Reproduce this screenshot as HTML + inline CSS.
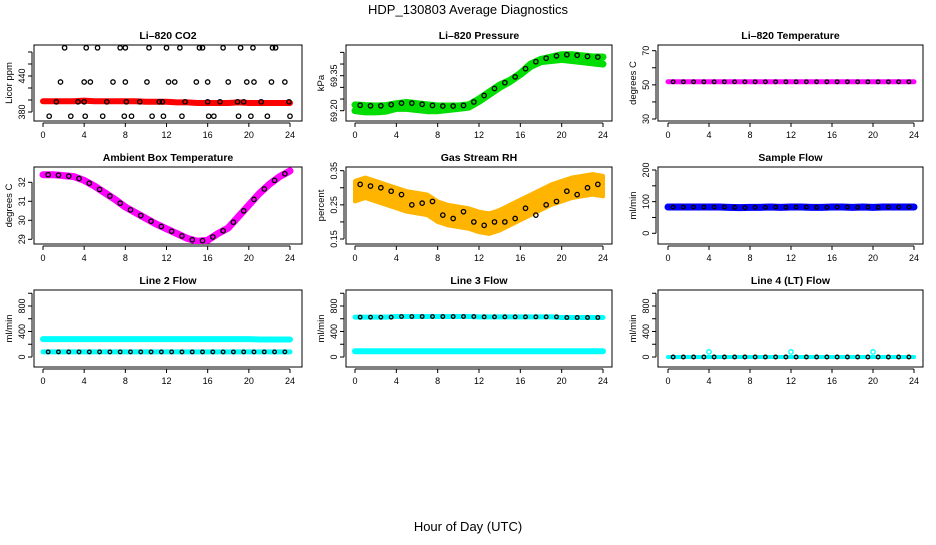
<!DOCTYPE html>
<html><head><meta charset="utf-8"><style>
html,body{margin:0;padding:0;background:#fff}
svg text{font-family:"Liberation Sans",sans-serif}
</style></head><body>
<svg id="chart" width="936" height="540" viewBox="0 0 936 540" xmlns="http://www.w3.org/2000/svg">
<text x="468" y="14" text-anchor="middle" font-size="13">HDP_130803  Average Diagnostics</text>
<text x="468" y="531" text-anchor="middle" font-size="13">Hour of Day (UTC)</text>
</svg>
<script>
const hours=[0,1,2,3,4,5,6,7,8,9,10,11,12,13,14,15,16,17,18,19,20,21,22,23,24];
const halfHours=[0.5,1.5,2.5,3.5,4.5,5.5,6.5,7.5,8.5,9.5,10.5,11.5,12.5,13.5,14.5,15.5,16.5,17.5,18.5,19.5,20.5,21.5,22.5,23.5];
const xTicks=[0,4,8,12,16,20,24];
// CO2
const co2Red=[398,398,398,398,399,398,398,398,398,398,397,397,397,396,396,395,395,395,395,396,395,395,395,395,395];
const co2TopX=[2.1,4.2,5.3,7.5,8,10.3,12,13.3,15.2,15.5,17.5,19.2,20.4,22.3,22.6];
const co2MidX=[1.7,4,4.6,6.8,8,10.1,12.2,12.8,14.9,16,18,19.8,20.5,22.2,23.5];
const co2LowX=[0.6,2.7,4.1,5.8,7.9,8.6,10.6,11.7,13.5,16.1,16.6,19,20.2,21.8,24];
const co2OnX=[1.3,3.4,4,6.2,8.1,9.4,11.3,11.6,13.8,16,17.2,18.9,19.5,21.2,23.9];
const co2Top=487, co2Mid=430, co2Low=373, co2On=397;
// Pressure
const presUpper=[69.225,69.222,69.22,69.222,69.23,69.235,69.23,69.225,69.22,69.22,69.22,69.225,69.25,69.28,69.31,69.33,69.36,69.40,69.42,69.43,69.44,69.44,69.435,69.43,69.43];
const presLower=[69.20,69.195,69.195,69.198,69.21,69.21,69.205,69.20,69.20,69.205,69.21,69.215,69.24,69.27,69.30,69.325,69.355,69.39,69.41,69.415,69.42,69.415,69.41,69.405,69.40];
// Li-820 temperature
const tempVals=[51.8,51.8,51.8,51.8,51.8,51.8,51.8,51.8,51.8,51.8,51.8,51.8,51.8,51.8,51.8,51.8,51.8,51.8,51.8,51.8,51.8,51.8,51.8,51.8,51.8];
// Ambient
const ambVals=[32.4,32.4,32.35,32.3,32.1,31.8,31.45,31.1,30.7,30.4,30.1,29.8,29.55,29.3,29.05,28.9,28.95,29.3,29.6,30.2,30.8,31.4,31.9,32.3,32.6];
// RH
const rhVals=[0.29,0.30,0.29,0.28,0.27,0.26,0.255,0.25,0.23,0.22,0.215,0.21,0.20,0.195,0.205,0.22,0.235,0.25,0.265,0.28,0.29,0.30,0.305,0.31,0.305];
const rhBlack=[0.31,0.305,0.30,0.29,0.28,0.25,0.255,0.26,0.22,0.21,0.23,0.20,0.19,0.20,0.20,0.21,0.24,0.22,0.25,0.26,0.29,0.28,0.30,0.31];
// Flows
const sampleVals=[83,83,83,83,83,83,82,81,82,82,83,82,83,83,82,82,83,83,82,83,82,83,83,83,83];
const line2High=[281,281,281,281,281,281,281,281,281,281,281,281,281,281,281,281,281,281,281,281,281,275,275,275,275];
const line2Low=[80,80,80,80,80,80,80,80,80,80,80,80,80,80,80,80,80,80,80,80,80,80,80,80,80];
const line3High=[625,625,625,625,635,635,635,635,635,635,635,635,630,630,630,630,630,630,630,630,620,620,620,620,620];
const line3Low=[90,90,90,90,90,90,90,90,90,90,90,90,90,90,90,90,90,90,90,90,90,90,90,90,90];
const line4Vals=[0,0,0,0,0,0,0,0,0,0,0,0,0,0,0,0,0,0,0,0,0,0,0,0,0];
const line4SpikeX=[4,12,20];
const line4Spike=[80,80,80];

const NS='http://www.w3.org/2000/svg';
const svg=document.getElementById('chart');
function mk(tag,attrs,parent){const e=document.createElementNS(NS,tag);for(const k in attrs)e.setAttribute(k,attrs[k]);(parent||svg).appendChild(e);return e;}
const cols=[{L:34,R:302,x0:43,x1:290},{L:346,R:612,x0:355,x1:603},{L:658,R:923,x0:668,x1:914}];
const rows=[{T:45,B:121},{T:167,B:244},{T:290,B:367}];

function panel(name,title,ci,ri,yA,yB,yTicks,yLabels,ytitle,dec){
  const c=cols[ci],r=rows[ri];
  const g=mk('g',{});
  
  
  const sx=v=>c.x0+(v/24)*(c.x1-c.x0);
  const sy=v=>yA[1]+(v-yA[0])/(yB[0]-yA[0])*(yB[1]-yA[1]);
  const t=mk('text',{x:(c.L+c.R)/2,y:r.T-6,'text-anchor':'middle','font-size':'10.5','font-weight':'bold'},g);
  t.textContent=title;
  
  
  const box=mk('rect',{x:c.L,y:r.T,width:c.R-c.L,height:r.B-r.T,fill:'none',stroke:'#000','stroke-width':1},g);
  
  
  const ax=mk('g',{},g);
  
  
  mk('line',{x1:sx(0),x2:sx(24),y1:r.B+2,y2:r.B+2,stroke:'#000'},ax);
  xTicks.forEach(v=>{mk('line',{x1:sx(v),x2:sx(v),y1:r.B+2,y2:r.B+6,stroke:'#000'},ax);
    const tl=mk('text',{x:sx(v),y:r.B+17,'text-anchor':'middle','font-size':'9'},ax);tl.textContent=v;});
  const ay=mk('g',{},g);
  
  
  mk('line',{x1:c.L-2,x2:c.L-2,y1:sy(yTicks[0]),y2:sy(yTicks[yTicks.length-1]),stroke:'#000'},ay);
  yTicks.forEach(v=>{mk('line',{x1:c.L-2,x2:c.L-6,y1:sy(v),y2:sy(v),stroke:'#000'},ay);});
  yLabels.forEach(v=>{const yy=sy(v);const tl=mk('text',{x:0,y:0,'text-anchor':'middle','font-size':'9',transform:`translate(${c.L-9},${yy}) rotate(-90)`},ay);tl.textContent=dec?v.toFixed(dec):v;});
  const yt=mk('text',{x:0,y:0,'text-anchor':'middle','font-size':'9.5',transform:`translate(${c.L-22},${(r.T+r.B)/2}) rotate(-90)`},g);
  yt.textContent=ytitle;
  
  
  const clip='clip-'+name;
  const cp=mk('clipPath',{id:clip},g);mk('rect',{x:c.L,y:r.T,width:c.R-c.L,height:r.B-r.T},cp);
  const d=mk('g',{'clip-path':`url(#${clip})`},g);
  
  
  return {sx,sy,d};
}
function band(p,xs,ys,color,w,nm){
  const pts=xs.map((x,i)=>p.sx(x)+','+p.sy(ys[i])).join(' ');
  const l=mk('polyline',{points:pts,fill:'none',stroke:color,'stroke-width':w,'stroke-linecap':'round','stroke-linejoin':'round'},p.d);
  
  
}
function areaBand(p,xs,lo,hi,color,nm){
  const a=xs.map((x,i)=>p.sx(x)+','+p.sy(hi[i]));
  const b=xs.map((x,i)=>p.sx(x)+','+p.sy(lo[i])).reverse();
  const pg=mk('polygon',{points:a.concat(b).join(' '),fill:color,stroke:color,'stroke-width':4,'stroke-linejoin':'round'},p.d);
  
  
}
function dots(p,xs,ys,color,nm,rad){
  xs.forEach((x,i)=>{const y=Array.isArray(ys)?ys[i]:ys;
    const c=mk('circle',{cx:p.sx(x),cy:p.sy(y),r:rad||2.2,fill:'none',stroke:color,'stroke-width':1.3},p.d);
    
    });
}
// CO2
let p=panel('co2','Li\u2013820 CO2',0,0,[380,112],[440,76],[380,400,420,440,460,480],[380,440],'Licor ppm');
band(p,hours,co2Red,'#ff0000',6,'co2-red-series');
dots(p,co2TopX,co2TopX.map(()=>co2Top),'#000','co2-point');
dots(p,co2MidX,co2MidX.map(()=>co2Mid),'#000','co2-point');
dots(p,co2LowX,co2LowX.map(()=>co2Low),'#000','co2-point');
dots(p,co2OnX,co2OnX.map(()=>co2On),'#000','co2-point');
// Pressure
p=panel('pressure','Li\u2013820 Pressure',1,0,[69.20,110.7],[69.35,75.7],[69.20,69.25,69.30,69.35,69.40,69.45],[69.20,69.35],'kPa',2);
band(p,hours,presLower,'#00dd00',7,'pressure-lower-band');
band(p,hours,presUpper,'#00dd00',7,'pressure-upper-band');
dots(p,halfHours,halfHours.map((x,i)=>(presUpper[i]+presUpper[i+1])/2),'#000','pressure-point');
// Temperature
p=panel('li820-temp','Li\u2013820 Temperature',2,0,[30,119],[70,50.7],[30,40,50,60,70],[30,50,70],'degrees C');
band(p,hours,tempVals,'#ff00ff',5,'temperature-series');
dots(p,halfHours,halfHours.map((x,i)=>tempVals[i]),'#000','temperature-point',1.8);
// Ambient
p=panel('ambient','Ambient Box Temperature',0,1,[29,239.3],[32,182.3],[29,30,31,32],[29,30,31,32],'degrees C');
band(p,hours,ambVals,'#ff00ff',7,'ambient-series');
dots(p,halfHours,halfHours.map((x,i)=>(ambVals[i]+ambVals[i+1])/2),'#000','ambient-point');
// RH
p=panel('rh','Gas Stream RH',1,1,[0.15,239],[0.35,170.7],[0.15,0.20,0.25,0.30,0.35],[0.15,0.25,0.35],'percent',2);
areaBand(p,hours,rhVals.map(v=>v-0.03),rhVals.map(v=>v+0.03),'#ffb400','rh-band');
dots(p,halfHours,rhBlack,'#000','rh-point');
// Sample
p=panel('sample-flow','Sample Flow',2,1,[0,233.3],[200,170],[0,50,100,150,200],[0,100,200],'ml/min');
band(p,hours,sampleVals,'#0000ff',7,'sample-series');
dots(p,halfHours,halfHours.map((x,i)=>sampleVals[i]),'#000','sample-point',1.8);
const flowT=[0,200,400,600,800,1000],flowL=[0,400,800];
// Line 2
p=panel('line2','Line 2 Flow',0,2,[0,357],[800,306],flowT,flowL,'ml/min');
band(p,hours,line2High,'#00ffff',6,'line2-high-series');
band(p,hours,line2Low,'#00ffff',5,'line2-low-series');
dots(p,halfHours,halfHours.map((x,i)=>line2Low[i]),'#000','line2-point',1.8);
// Line 3
p=panel('line3','Line 3 Flow',1,2,[0,357],[800,306],flowT,flowL,'ml/min');
band(p,hours,line3High,'#00ffff',5,'line3-high-series');
band(p,hours,line3Low,'#00ffff',6,'line3-low-series');
dots(p,halfHours,halfHours.map((x,i)=>line3High[i]),'#000','line3-point',1.8);
// Line 4
p=panel('line4','Line 4 (LT) Flow',2,2,[0,357],[800,306],flowT,flowL,'ml/min');
band(p,hours,line4Vals,'#00ffff',4,'line4-series');
dots(p,halfHours,halfHours.map((x,i)=>line4Vals[i]),'#000','line4-point',1.8);
dots(p,line4SpikeX,line4Spike,'#00ffff','line4-spike',2.2);
</script>
</body></html>
